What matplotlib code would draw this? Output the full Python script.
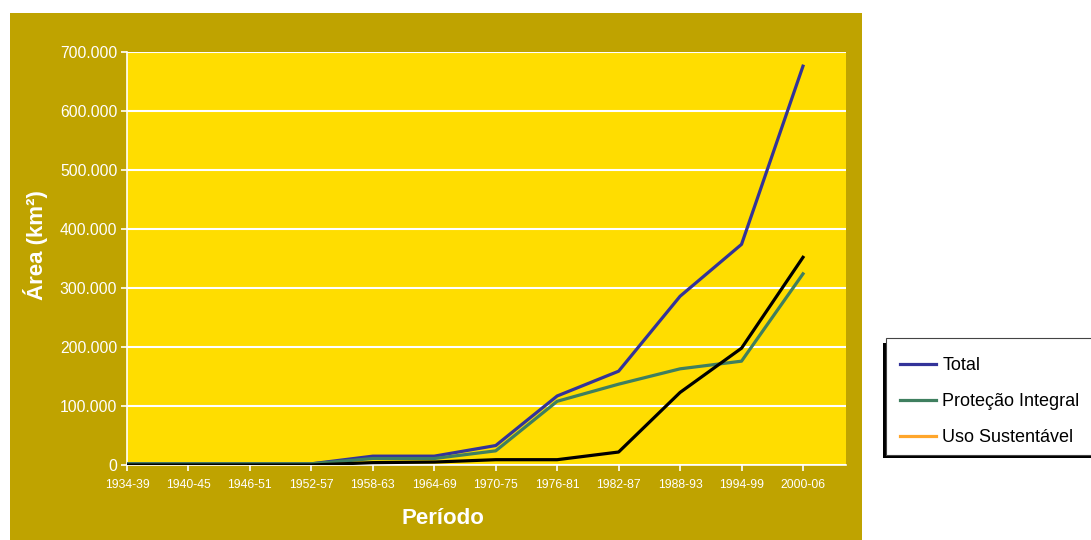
import matplotlib
matplotlib.use("Agg")
import matplotlib.pyplot as plt
from matplotlib.patches import Rectangle
from matplotlib.lines import Line2D
from matplotlib.ticker import FuncFormatter

periodos = ["1934-39", "1940-45", "1946-51", "1952-57", "1958-63", "1964-69",
            "1970-75", "1976-81", "1982-87", "1988-93", "1994-99", "2000-06"]
total = [2000, 2000, 2000, 2000, 15000, 15000, 33000, 117000, 159000, 286000, 374000, 676000]
protecao_integral = [2000, 2000, 2000, 2000, 11000, 11000, 24000, 108000, 137000, 163000, 176000, 324000]
uso_sustentavel = [0, 0, 0, 0, 4000, 5000, 9000, 9000, 22000, 123000, 198000, 352000]

OLIVE = "#BFA300"
YELLOW = "#FFDD00"

plt.rcParams["font.family"] = ["Liberation Sans", "DejaVu Sans"]

fig = plt.figure(figsize=(10.91, 5.40), dpi=100)
fig.patch.set_facecolor("white")
W, H = 1091, 540

def fx(px):
    return px / W

def fy(py):
    return 1 - py / H

# olive chart panel
fig.patches.append(Rectangle((fx(10), fy(540)), fx(862) - fx(10), fy(13) - fy(540),
                             transform=fig.transFigure, facecolor=OLIVE, edgecolor="none", zorder=-2))

ax = fig.add_axes([fx(127), fy(465), fx(846) - fx(127), fy(52) - fy(465)])
ax.set_zorder(1)
ax.set_facecolor(YELLOW)
x = list(range(len(periodos)))
ax.plot(x, total, color="#333399", lw=2.3, zorder=3)
ax.plot(x, protecao_integral, color="#3F7F5F", lw=2.3, zorder=3)
ax.plot(x, uso_sustentavel, color="black", lw=2.3, zorder=4)

ax.set_xlim(0, 11.7)
ax.set_ylim(0, 700000)
ax.set_yticks(range(0, 700001, 100000))
ax.yaxis.set_major_formatter(FuncFormatter(lambda v, p: f"{int(v):,}".replace(",", ".")))
ax.set_xticks(x)
ax.set_xticklabels(periodos)
ax.grid(axis="y", color="white", lw=1.5)
ax.set_axisbelow(True)
for s in ["top", "right"]:
    ax.spines[s].set_visible(False)
for s in ["left", "bottom"]:
    ax.spines[s].set_color("white")
    ax.spines[s].set_linewidth(1.2)
ax.tick_params(axis="y", colors="white", labelsize=11.3, length=4, width=1.2, pad=3)
ax.tick_params(axis="x", colors="white", labelsize=8.8, length=4, width=1.2, pad=6)

fig.text(fx(35), fy(245), "Área (km²)", rotation=90, color="white", fontsize=16,
         fontweight="bold", ha="center", va="center")
fig.text(fx(443), fy(518), "Período", color="white", fontsize=16,
         fontweight="bold", ha="center", va="center")

# legend box with drop shadow
fig.patches.append(Rectangle((fx(883), fy(458)), fx(1095) - fx(883), fy(343) - fy(458),
                             transform=fig.transFigure, facecolor="black", edgecolor="none", zorder=1))
fig.patches.append(Rectangle((fx(886), fy(455)), fx(1095) - fx(886), fy(338) - fy(455),
                             transform=fig.transFigure, facecolor="white", edgecolor="#444444",
                             lw=0.8, zorder=2))
handles = [Line2D([], [], color="#333399", lw=2.3),
           Line2D([], [], color="#3F7F5F", lw=2.3),
           Line2D([], [], color="#FFA62B", lw=2.3)]
labels = ["Total", "Proteção Integral", "Uso Sustentável"]
leg = fig.legend(handles, labels, loc="upper left", bbox_to_anchor=(fx(900), fy(357)),
                 frameon=False, fontsize=13, handlelength=2.0, handletextpad=0.35,
                 labelspacing=1.05, borderpad=0, borderaxespad=0)
leg.set_zorder(5)

fig.savefig("out.png", dpi=100, facecolor=fig.get_facecolor())
